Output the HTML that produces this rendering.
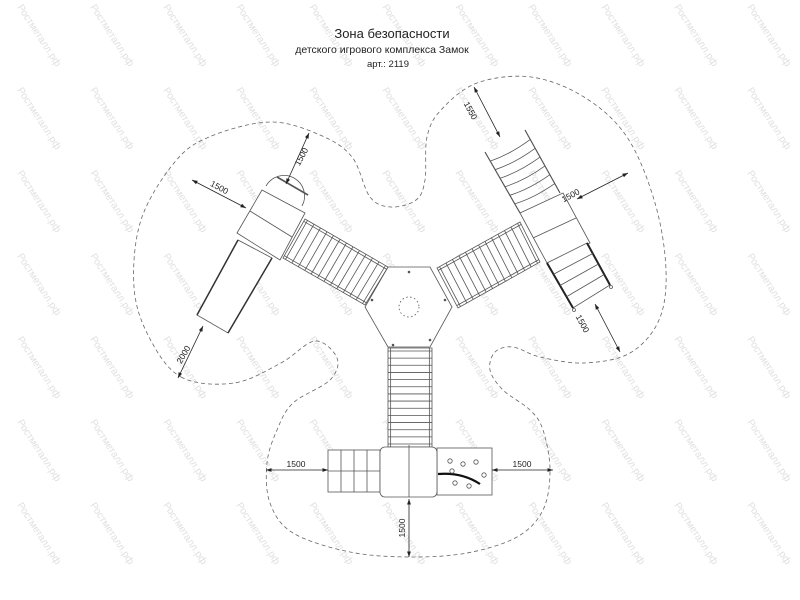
<!DOCTYPE html>
<html><head><meta charset="utf-8">
<style>
html,body{margin:0;padding:0;background:#fff;width:800px;height:600px;overflow:hidden;}
#wrap{width:800px;height:600px;overflow:hidden;position:relative;}
svg{display:block;overflow:hidden;}
text{font-family:"Liberation Sans Narrow","Liberation Sans",sans-serif;}
</style></head>
<body>
<div id="wrap">
<svg id="s" width="800" height="600" viewBox="0 0 800 600" xmlns="http://www.w3.org/2000/svg">
<defs>
<marker id="ah" viewBox="0 0 10 10" refX="10" refY="5" markerWidth="7" markerHeight="7" orient="auto-start-reverse"><path d="M0,1.5 L10,5 L0,8.5 z" fill="#222"/></marker>
</defs>
<g id="wm" fill="#e0e0e0" font-size="10"></g>
<path id="outline" fill="none" stroke="#666" stroke-width="0.8" stroke-dasharray="4,3"/>
<g id="draw" fill="none" stroke="#555" stroke-width="0.8"></g>
<g font-size="8.5" fill="#222" stroke="none">
<text x="218" y="190" transform="rotate(28 218 190)" text-anchor="middle">1500</text>
<text x="304" y="158" transform="rotate(-62 304 158)" text-anchor="middle">1500</text>
<text x="186" y="356" transform="rotate(-60 186 356)" text-anchor="middle">2000</text>
<text x="468" y="112" transform="rotate(62 468 112)" text-anchor="middle">1550</text>
<text x="572" y="198" transform="rotate(-28 572 198)" text-anchor="middle">1500</text>
<text x="580" y="325" transform="rotate(62 580 325)" text-anchor="middle">1500</text>
<text x="296" y="467" text-anchor="middle">1500</text>
<text x="522" y="467" text-anchor="middle">1500</text>
<text x="405" y="528" transform="rotate(-90 405 528)" text-anchor="middle">1500</text>
</g>
<g fill="#222" text-anchor="middle">
<text x="392" y="38" font-size="13">Зона безопасности</text>
<text x="382" y="53" font-size="10.5">детского игрового комплекса Замок</text>
<text x="388" y="67" font-size="9.5">арт.: 2119</text>
</g>
</svg>
</div>
<script>
var NS="http://www.w3.org/2000/svg";
var wm=document.getElementById('wm');
for(var i=0;i<11;i++)for(var j=0;j<7;j++){
 var x=17+73*i,y=7+83*j;
 var t=document.createElementNS(NS,'text');
 t.setAttribute('x',x);t.setAttribute('y',y);
 t.setAttribute('transform','rotate(57 '+x+' '+y+')');
 t.textContent='Ростметалл.рф';wm.appendChild(t);
}
var P=[[181,377],[234,383],[281,363],[315,341],[337,358],[330,380],[293,403],[277,430],[267,463],[270,503],[293,533],[350,552],[410,557],[467,553],[517,537],[543,510],[550,470],[543,430],[530,410],[503,390],[490,370],[495,352],[513,347],[540,357],[584,363],[630,353],[659,320],[666,270],[655,203],[627,137],[584,97],[531,77],[477,83],[441,110],[427,137],[425,180],[416,200],[391,207],[370,197],[352,157],[320,135],[270,122],[209,137],[174,163],[141,220],[134,287],[149,337]];
var n=P.length,d='M'+P[0];
for(var k=0;k<n;k++){
 var p0=P[(k-1+n)%n],p1=P[k],p2=P[(k+1)%n],p3=P[(k+2)%n];
 var c1=[p1[0]+(p2[0]-p0[0])/6,p1[1]+(p2[1]-p0[1])/6];
 var c2=[p2[0]-(p3[0]-p1[0])/6,p2[1]-(p3[1]-p1[1])/6];
 d+=' C'+c1+' '+c2+' '+p2;
}
document.getElementById('outline').setAttribute('d',d+'Z');
var g=document.getElementById('draw');
function el(tag,a){var e=document.createElementNS(NS,tag);for(var k in a)e.setAttribute(k,a[k]);g.appendChild(e);return e;}
function poly(pts,a){a=a||{};a.points=pts.map(function(p){return p.join(',')}).join(' ');return el('polygon',a);}
function line(a,b,at){at=at||{};at.x1=a[0];at.y1=a[1];at.x2=b[0];at.y2=b[1];return el('line',at);}
function lerp(a,b,t){return [a[0]+(b[0]-a[0])*t,a[1]+(b[1]-a[1])*t];}
function bridge(a1,a2,b1,b2,cnt){
 poly([a1,a2,b2,b1],{fill:'#fff'});
 var off=0.06;
 line(lerp(a1,b1,off),lerp(a2,b2,off));line(lerp(a1,b1,1-off),lerp(a2,b2,1-off));
 for(var q=0;q<=cnt;q++){var t=0.03+0.94*q/cnt;line(lerp(a1,a2,t),lerp(b1,b2,t),{stroke:'#555'});}
}
poly([[388,267],[430,267],[452,307],[430,347],[388,347],[365,307]],{fill:'#fff'});
el('circle',{cx:409,cy:307,r:10,'stroke-dasharray':'1.5,2.5'});
[[409,272],[372,300],[445,300],[393,345],[430,340]].forEach(function(p){el('circle',{cx:p[0],cy:p[1],r:0.9,fill:'#555'})});
bridge([305,219],[388,267],[283,258],[365,305],12);
bridge([520,222],[437,268],[540,262],[458,308],12);
bridge([388,348],[388,447],[432,348],[432,447],13);
el('path',{d:'M266,186 A19,19 0 0 1 302,206',fill:'#fff'});
line([277,177],[308,195],{'stroke-width':1.6});
poly([[262,190],[305,213],[280,260],[237,233]],{fill:'#fff','stroke-linejoin':'round'});
line([250,211],[292,237]);
poly([[238,240],[272,258],[228,333],[197,315]],{fill:'#fff'});
line([238,240],[197,315],{'stroke-width':1.5,stroke:'#333'});
line([272,258],[228,333],{'stroke-width':1.5,stroke:'#333'});
poly([[520,213],[563,193],[590,243],[547,263]],{fill:'#fff'});
line([533,238],[576,218]);
line([485,152],[520,213],{'stroke-width':1.2});line([525,130],[560,193],{'stroke-width':1.2});
for(var q=0;q<6;q++){var t=0.15+q*0.14;var a=lerp([485,152],[520,213],t),b=lerp([525,130],[560,193],t);
 el('path',{d:'M'+a+' Q'+[(a[0]+b[0])/2,(a[1]+b[1])/2+4]+' '+b});}
poly([[547,263],[587,243],[610,285],[573,308]],{fill:'#fff'});
line([547,263],[573,308],{'stroke-width':2,stroke:'#222'});line([587,243],[610,285],{'stroke-width':2,stroke:'#222'});
for(var q=1;q<4;q++){line(lerp([547,263],[573,308],q/4),lerp([587,243],[610,285],q/4));}
el('circle',{cx:574,cy:310,r:1.5});el('circle',{cx:611,cy:287,r:1.5});
el('rect',{x:328,y:450,width:52,height:42,fill:'#fff'});
line([328,471],[380,471]);
[341,354,367].forEach(function(x){line([x,450],[x,492])});
el('rect',{x:437,y:448,width:55,height:47,fill:'#fff'});
el('rect',{x:380,y:447,width:57,height:50,rx:5,fill:'#fff'});
line([409,445],[409,497]);
el('path',{d:'M438,474 Q462,472 480,484',stroke:'#111','stroke-width':2.2});
[[450,461],[463,464],[476,462],[484,475],[455,483],[469,486],[452,471]].forEach(function(p){el('circle',{cx:p[0],cy:p[1],r:2.2})});
function dim(a,b){line(a,b,{stroke:'#222','marker-start':'url(#ah)','marker-end':'url(#ah)'});}
dim([192,180],[246,208]);dim([309,133],[286,184]);dim([203,326],[178,378]);
dim([474,87],[500,137]);dim([628,173],[577,199]);dim([595,304],[620,352]);
dim([266,470],[328,470]);dim([492,470],[553,470]);dim([409,499],[409,557]);
</script>
</body></html>
